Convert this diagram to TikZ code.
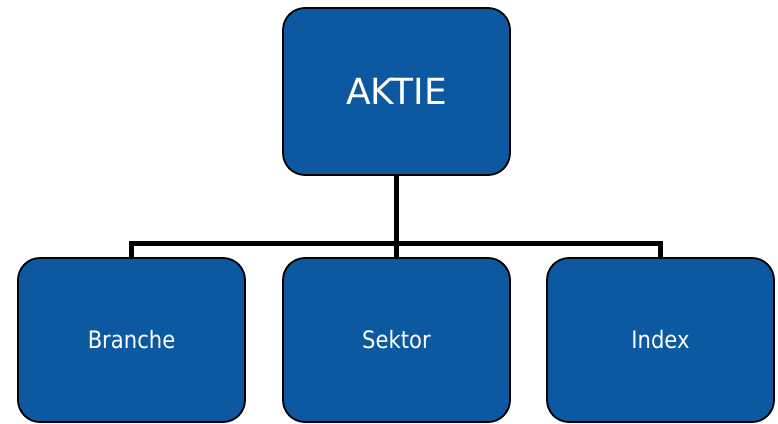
\documentclass[tikz,border=0pt]{standalone}
\usepackage{fontspec}
\setmainfont{DejaVu Sans}
\newfontfamily\boxfont{DejaVu Sans}[FakeStretch=0.88]
\usepackage{xcolor}
\usepackage{tikz}
\usetikzlibrary{positioning}
\definecolor{boxblue}{HTML}{0D59A1}

\begin{document}
\begin{tikzpicture}[x=1pt,y=1pt,
    orgbox/.style={draw=black,line width=1.8pt,fill=boxblue,text=white,rounded corners=22pt,
        minimum width=227pt,inner sep=0pt,outer sep=0pt},
    conn/.style={draw=black,line width=5.5pt}]
    \useasboundingbox (0,0) rectangle (778,423);
    \node [orgbox,minimum height=167pt,font=\fontsize{36}{42}\selectfont] (aktie) at (396.5,331.5) {AKTIE};
    \node [orgbox,minimum height=164pt,font=\boxfont\fontsize{24}{29}\selectfont,below=83pt of aktie] (sektor) {Sektor};
    \node [orgbox,minimum height=164pt,font=\boxfont\fontsize{24}{29}\selectfont,left=38pt of sektor] (branche) {Branche};
    \node [orgbox,minimum height=164pt,font=\boxfont\fontsize{24}{29}\selectfont,right=37pt of sektor] (index) {Index};
    \path[conn]
        (aktie.south) -- ++(0,-68.5) coordinate (bus)
        (branche.north) |- (bus) -| (index.north)
        (bus) -- (sektor.north)
    ;
\end{tikzpicture}
\end{document}
